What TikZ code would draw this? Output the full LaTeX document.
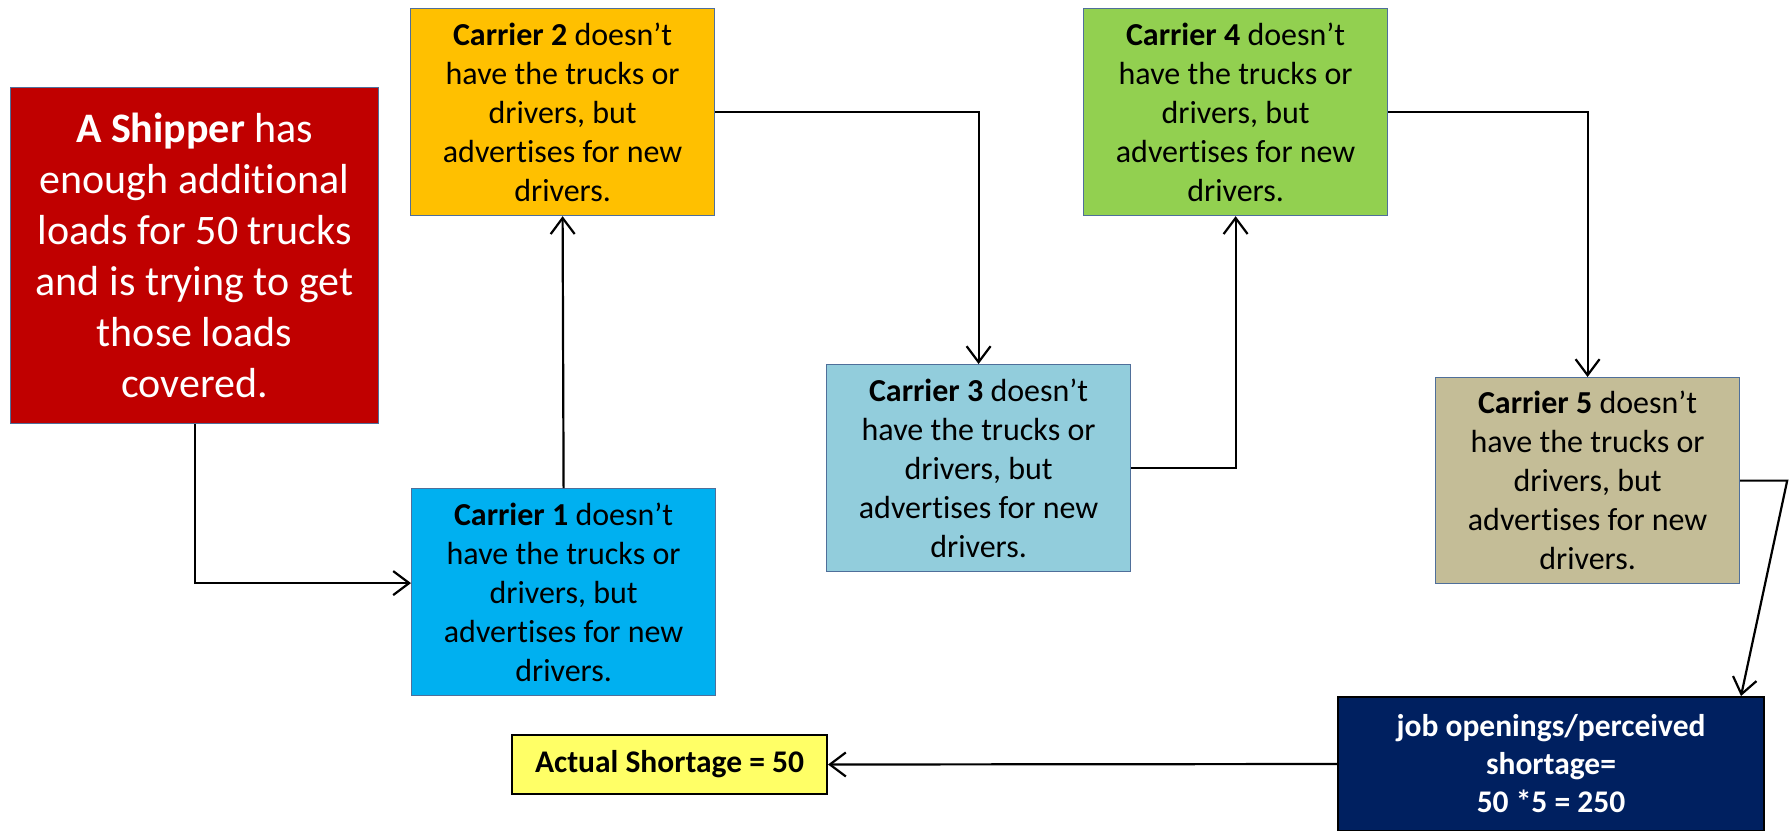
\documentclass[tikz,border=0pt]{standalone}
\usepackage{fontspec}
\setmainfont[Ligatures=NoCommon]{Carlito}
\usetikzlibrary{arrows.meta,calc}

\definecolor{shipred}{HTML}{C00000}
\definecolor{carrierA}{HTML}{00B0F0}
\definecolor{carrierB}{HTML}{FFC000}
\definecolor{carrierC}{HTML}{92CDDC}
\definecolor{carrierD}{HTML}{92D050}
\definecolor{carrierE}{HTML}{C4BD97}
\definecolor{navybox}{HTML}{002060}
\definecolor{paleyellow}{HTML}{FFFF66}
\definecolor{edgeblue}{HTML}{4F6F9A}

\begin{document}
\begin{tikzpicture}[x=1pt,y=-1pt,
  boxline/.style={draw=edgeblue, line width=1.2pt},
  carrierbox/.style={boxline, anchor=north west, inner sep=0pt,
    minimum width=304pt, minimum height=207pt, align=center,
    font=\fontsize{32}{39}\selectfont},
  resultbox/.style={draw=black, line width=2pt, anchor=north west,
    inner sep=0pt, align=center, font=\fontsize{31.5}{38}\selectfont\bfseries},
  flow/.style={draw=black, line width=2.2pt,
    -{Straight Barb[length=16pt, width=24pt, line width=2.2pt]}}
]
\useasboundingbox (0,0) rectangle (1791,830);

% shipper
\node[boxline, fill=shipred, text=white, anchor=north west, inner sep=0pt,
  minimum width=368pt, minimum height=336pt, align=center,
  font=\fontsize{42}{51}\selectfont] (sh) at (10,87)
  {\textbf{A Shipper} has\\enough additional\\loads for 50 trucks\\and is trying to get\\those loads\\covered.};

% carriers
\node[carrierbox, fill=carrierA] (c1) at (411,488)
  {\textbf{Carrier 1} doesn’t\\have the trucks or\\drivers, but\\advertises for new\\drivers.};
\node[carrierbox, fill=carrierB] (c2) at (410,8)
  {\textbf{Carrier 2} doesn’t\\have the trucks or\\drivers, but\\advertises for new\\drivers.};
\node[carrierbox, fill=carrierC] (c3) at (826,364)
  {\textbf{Carrier 3} doesn’t\\have the trucks or\\drivers, but\\advertises for new\\drivers.};
\node[carrierbox, fill=carrierD] (c4) at (1083,8)
  {\textbf{Carrier 4} doesn’t\\have the trucks or\\drivers, but\\advertises for new\\drivers.};
\node[carrierbox, fill=carrierE, minimum height=206pt] (c5) at (1435,377)
  {\textbf{Carrier 5} doesn’t\\have the trucks or\\drivers, but\\advertises for new\\drivers.};

% totals
\node[resultbox, fill=navybox, text=white, minimum width=426pt,
  minimum height=134pt] (job) at (1337,696)
  {job openings/perceived\\shortage=\\50 *5 = 250};
\node[resultbox, fill=paleyellow, minimum width=315pt,
  minimum height=59pt] (act) at (511,734) {Actual Shortage = 50};

% connectors
\draw[flow] (sh.south) |- ($(c1.west)+(0,-9)$);
\draw[flow] (c1.north) -- (c2.south);
\draw[flow] (c2.east) -| (c3.north);
\draw[flow] (c3.east) -| (c4.south);
\draw[flow] (c4.east) -| (c5.north);
\coordinate (turn) at ($(c5.east)+(47,0)$);
\draw[flow] (c5.east) -- (turn) -- ($(job.north east)+(-24,0)$);
\draw[flow] (job.west) -- (act.east);
\end{tikzpicture}
\end{document}
